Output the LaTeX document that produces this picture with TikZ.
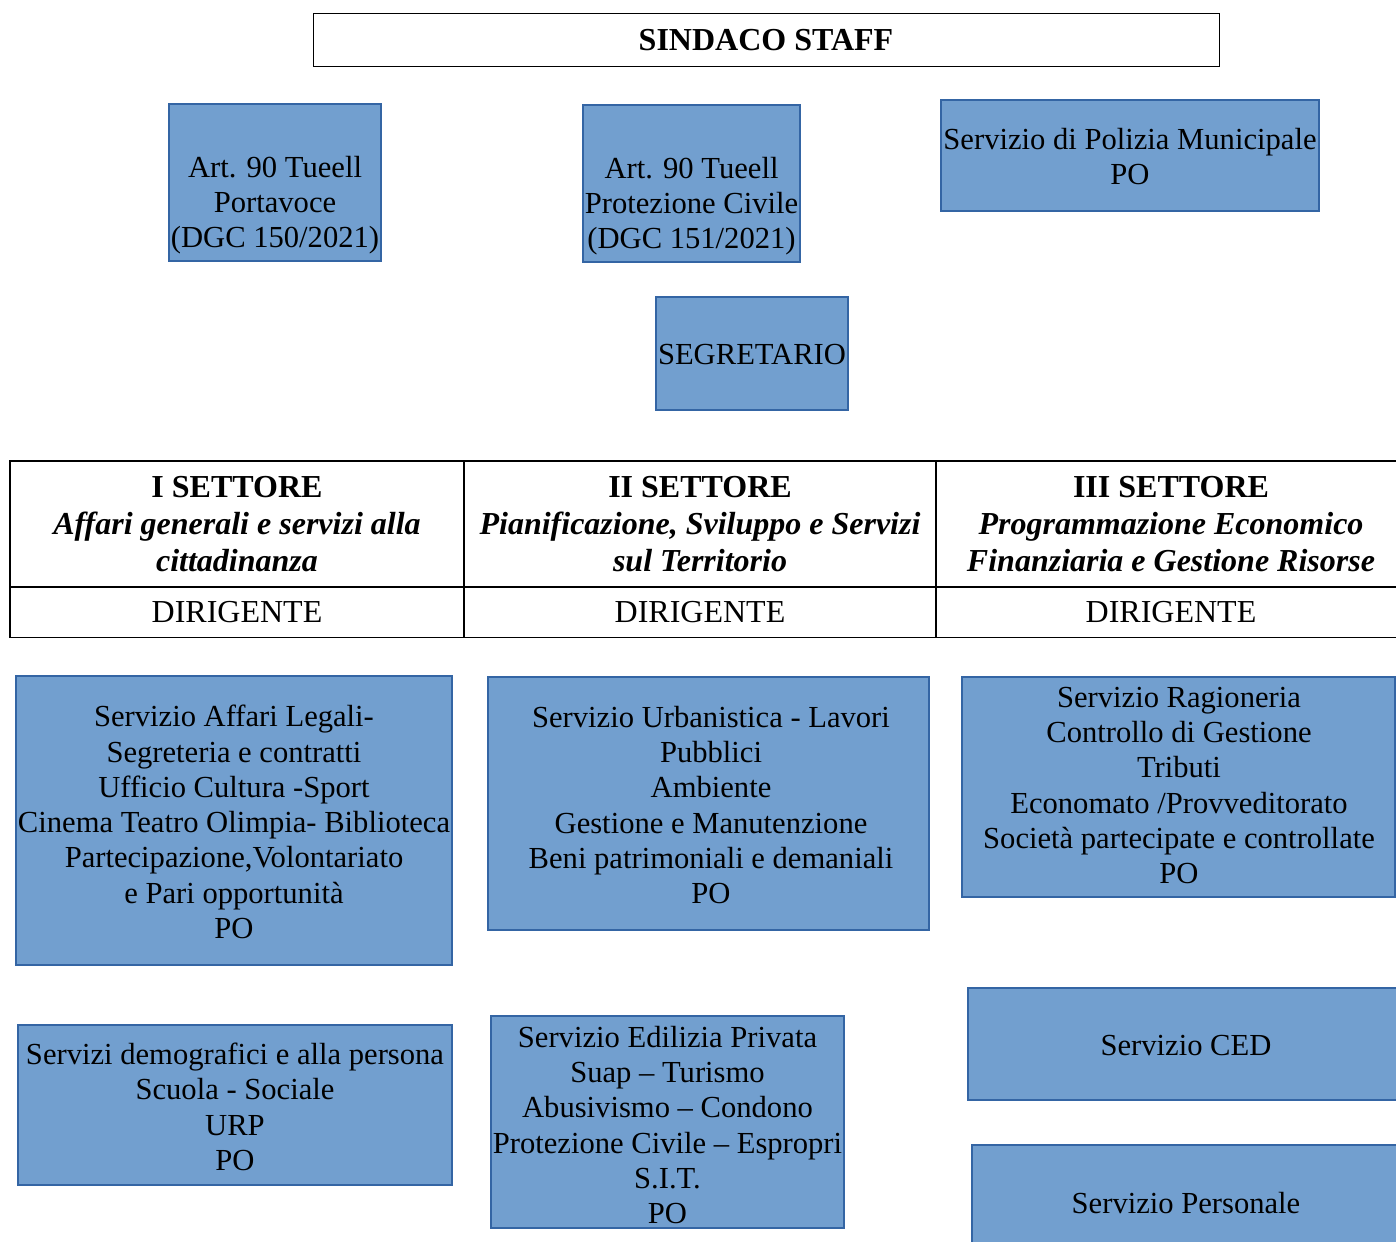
\documentclass[tikz,border=0pt]{standalone}
\usepackage{fontspec}
\setmainfont{Liberation Serif}
\usepackage{tikz}
\definecolor{svcfill}{RGB}{114,159,207}
\definecolor{svcline}{RGB}{52,101,164}
\newcommand{\boxfont}{\fontsize{15.3}{17.65}\selectfont}
\newcommand{\cellfont}{\fontsize{16}{18.3}\selectfont}
\tikzstyle{svcbox} = [draw=svcline,fill=svcfill,line width=1.3pt,inner sep=0pt]
\tikzstyle{cell} = [draw=black,line width=0.7pt,inner sep=0pt,align=center,font=\cellfont]
\tikzstyle{txt} = [align=center,inner sep=0pt]
\tikzset{wh/.style 2 args={minimum width=#1*0.5pt,minimum height=#2*0.5pt}}

\begin{document}
\begin{tikzpicture}[x=0.5pt,y=-0.5pt,font=\boxfont]
	\useasboundingbox[fill=white] (0,0) rectangle (1396,1241);
	\clip (0,0) rectangle (1396,1241);
	% staff
	\node[cell,wh={906}{53},line width=0.5pt] (sindaco) at (766,40.5) {\textbf{SINDACO STAFF}};
	\node[svcbox,wh={212}{157}] (portavoce) at (275,182.5) {};
	\node[txt] (portavocet) at (275,205) {Art. 90 Tueell\\Portavoce\\(DGC 150/2021)};
	\node[svcbox,wh={217}{157}] (protciv) at (691.5,183.5) {};
	\node[txt] (protcivt) at (691.5,206) {Art. 90 Tueell\\Protezione Civile\\(DGC 151/2021)};
	\node[svcbox,wh={378}{111}] (polizia) at (1130,155.5) {};
	\node[txt] (poliziat) at (1130,156.5) {Servizio di Polizia Municipale\\PO};
	\node[svcbox,wh={192}{113}] (segretario) at (752,353.5) {};
	\node[txt] (segretariot) at (752,355) {SEGRETARIO};
	% settori
	\node[cell,wh={454}{126}] (head1) at (237,524) {\textbf{I SETTORE}\\\textbf{\textit{Affari generali e servizi alla}}\\\textbf{\textit{cittadinanza}}};
	\node[cell,wh={472}{126}] (head2) at (700,524) {\textbf{II SETTORE}\\\textbf{\textit{Pianificazione, Sviluppo e Servizi}}\\\textbf{\textit{sul Territorio}}};
	\node[cell,wh={470}{126}] (head3) at (1171,524) {\textbf{III SETTORE}\\\textbf{\textit{Programmazione Economico}}\\\textbf{\textit{Finanziaria e Gestione Risorse}}};
	\foreach \i/\colx/\colw in {1/237/454,2/700/472,3/1171/470}
		\node[cell,wh={\colw}{51}] (dir\i) at (\colx,612) {DIRIGENTE};
	% servizi I settore
	\node[svcbox,wh={436}{289}] (affari) at (234,820.5) {};
	\node[txt] (affarit) at (234,822) {Servizio Affari Legali-\\Segreteria e contratti\\Ufficio Cultura -Sport\\Cinema Teatro Olimpia- Biblioteca\\Partecipazione,Volontariato\\e Pari opportunità\\PO};
	\node[svcbox,wh={434}{160}] (demo) at (235,1105) {};
	\node[txt] (demot) at (235,1107) {Servizi demografici e alla persona\\Scuola - Sociale\\URP\\PO};
	% servizi II settore
	\node[svcbox,wh={441}{253}] (urban) at (708.5,803.5) {};
	\node[txt] (urbant) at (711,805) {Servizio Urbanistica - Lavori\\Pubblici\\Ambiente\\Gestione e Manutenzione\\Beni patrimoniali e demaniali\\PO};
	\node[svcbox,wh={353}{212}] (edil) at (667.5,1122) {};
	\node[txt] (edilt) at (667.5,1125) {Servizio Edilizia Privata\\Suap -- Turismo\\Abusivismo -- Condono\\Protezione Civile -- Espropri\\S.I.T.\\PO};
	% servizi III settore
	\node[svcbox,wh={433}{220}] (ragion) at (1178.5,787) {};
	\node[txt] (ragiont) at (1179,785.5) {Servizio Ragioneria\\Controllo di Gestione\\Tributi\\Economato /Provveditorato\\Società partecipate e controllate\\PO};
	\node[svcbox,wh={436}{112}] (ced) at (1186,1044) {};
	\node[txt] (cedt) at (1186,1046) {Servizio CED};
	\node[svcbox,wh={428}{116}] (personale) at (1186,1203) {};
	\node[txt] (personalet) at (1186,1203) {Servizio Personale};
\end{tikzpicture}
\end{document}
